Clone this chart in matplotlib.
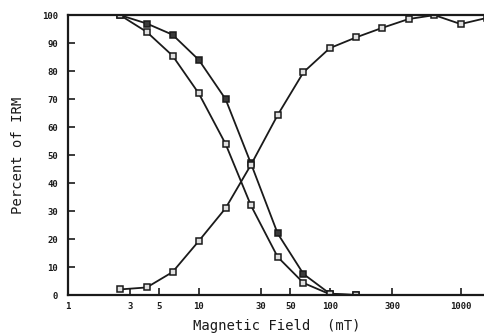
import matplotlib.pyplot as plt
import numpy as np

# AF demagnetisation (two samples) and IRM acquisition, field in mT
af_field = [2.5, 4.0, 6.3, 10, 16, 25, 40, 63, 100, 160]
af_hard = [100, 97, 93, 84, 70, 47, 22, 7.5, 0.5, 0]
af_soft = [100, 94, 85.5, 72, 54, 32, 13.6, 4.3, 0.3, 0]

irm_field = [2.5, 4.0, 6.3, 10, 16, 25, 40, 63, 100, 160, 250, 400, 630, 1000, 1580]
irm_pct = [2, 2.7, 8.2, 19.3, 31, 46.5, 64.3, 79.6, 88.2, 92.1, 95.4, 98.6, 100, 96.8, 99]

xticks = [1, 3, 5, 10, 30, 50, 100, 300, 1000]
yticks = list(range(0, 101, 10))

mono = 'DejaVu Sans Mono'

fig = plt.figure(figsize=(4.85, 3.36), dpi=100)
ax = fig.add_axes([0.140, 0.122, 0.862, 0.833])

line_kw = dict(color='#1a1a1a', lw=1.3, marker='s', ms=5, mew=1.1, mec='#1a1a1a')
ax.plot(af_field, af_hard, mfc='#3a3a3a', **line_kw)
ax.plot(af_field, af_soft, mfc='#e0e0e0', **line_kw)
ax.plot(irm_field, irm_pct, mfc='#e0e0e0', **line_kw)

ax.set_xscale('log')
ax.set_xlim(1, 1560)
ax.set_ylim(0, 100)

ax.set_xticks(xticks)
ax.set_xticklabels([str(t) for t in xticks])
ax.xaxis.set_minor_locator(plt.NullLocator())
ax.set_yticks(yticks)

ax.tick_params(axis='both', direction='in', length=5, width=1.2, color='#1a1a1a',
               labelsize=6.5, labelcolor='#1a1a1a')
ax.tick_params(axis='x', pad=5)
ax.tick_params(axis='y', pad=7)
for lbl in ax.get_xticklabels() + ax.get_yticklabels():
    lbl.set_family(mono)
    lbl.set_weight('bold')

ax.spines['right'].set_visible(False)
for s in ['left', 'bottom', 'top']:
    ax.spines[s].set_linewidth(1.6)
    ax.spines[s].set_color('#1a1a1a')

ax.set_xlabel('Magnetic Field  (mT)', family=mono, fontsize=10, color='#1a1a1a', labelpad=6)
ax.set_ylabel('Percent of IRM', family=mono, fontsize=10, color='#1a1a1a', labelpad=12)

fig.savefig('out.png', dpi=100)
